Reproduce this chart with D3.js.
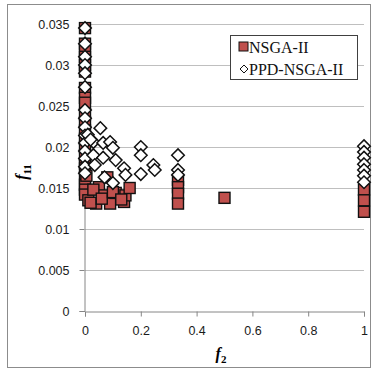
<!DOCTYPE html>
<html>
<head>
<meta charset="utf-8">
<script src="https://cdn.jsdelivr.net/npm/d3@7"></script>
<style>
  body { margin: 0; background: #fff; }
  svg { display: block; }
</style>
</head>
<body>
<svg id="chart" width="372" height="369"></svg>
<script>
// values
const nsgaF2 = [0, 0, 0, 0, 0, 0, 0, 0, 0, 0, 0, 0, 0, 0, 0, 0, 0, 0, 0, 0, 0,
  0.012, 0.04, 0.08, 0.05, 0.065, 0.09, 0.11, 0.14, 0.145, 0.16, 0.03, 0.02, 0.06, 0.1, 0.13, 0.005,
  1/3, 1/3, 1/3, 1/3, 0.5, 1, 1, 1];
const nsgaF11 = [0.0345, 0.0326, 0.0318, 0.031, 0.03, 0.0292, 0.0272, 0.026, 0.0254, 0.024, 0.023, 0.022, 0.021, 0.02, 0.019, 0.018, 0.0174, 0.0163, 0.0154, 0.0148, 0.0142,
  0.0135, 0.0131, 0.0163, 0.0151, 0.0141, 0.0131, 0.0144, 0.0133, 0.0141, 0.015, 0.0148, 0.0132, 0.0137, 0.0145, 0.0136, 0.0165,
  0.016, 0.0151, 0.0143, 0.0131, 0.0138, 0.0148, 0.0135, 0.0121];

const ppdF2 = [0, 0, 0, 0, 0, 0, 0, 0, 0, 0, 0, 0, 0, 0, 0,
  0.055, 0.01, 0.03, 0.02, 0.065, 0.09, 0.1, 0.03, 0.065, 0.11, 0.035, 0.07, 0.1, 0.14, 0.145,
  0.2, 0.2, 0.2, 0.245, 0.25, 1/3, 1/3, 1/3,
  1, 1, 1, 1, 1, 1, 1];
const ppdF11 = [0.0345, 0.0326, 0.031, 0.03, 0.029, 0.0273, 0.0245, 0.0235, 0.0224, 0.0214, 0.0205, 0.0195, 0.0186, 0.0176, 0.0168,
  0.0223, 0.0215, 0.0206, 0.0209, 0.0205, 0.0206, 0.0199, 0.019, 0.0187, 0.0184, 0.0178, 0.0163, 0.0156, 0.0174, 0.0166,
  0.02, 0.019, 0.0167, 0.0178, 0.0172, 0.019, 0.0172, 0.0166,
  0.0201, 0.0194, 0.0187, 0.0179, 0.0172, 0.0165, 0.0157];

const xTicks = [0, 0.2, 0.4, 0.6, 0.8, 1];
const yTicks = [0, 0.005, 0.01, 0.015, 0.02, 0.025, 0.03, 0.035];

const svg = d3.select("#chart");

// outer chart frame
svg.append("rect")
  .attr("x", 7.5).attr("y", 4.5)
  .attr("width", 363).attr("height", 363)
  .attr("fill", "#fff").attr("stroke", "#8c8c8c").attr("stroke-width", 1);

const x = d3.scaleLinear().domain([0, 1]).range([85, 364]);
const y = d3.scaleLinear().domain([0, 0.035]).range([311, 24]);

// horizontal gridlines
svg.append("g").selectAll("line").data(yTicks.slice(1)).join("line")
  .attr("x1", x(0)).attr("x2", x(1))
  .attr("y1", d => Math.round(y(d)) + 0.5).attr("y2", d => Math.round(y(d)) + 0.5)
  .attr("stroke", "#bfbfbf").attr("stroke-width", 1);

const tickFont = "'Liberation Sans', Arial, sans-serif";

// y axis
const yAxis = svg.append("g")
  .attr("transform", `translate(${x(0) - 0.5},0)`)
  .call(d3.axisLeft(y).tickValues(yTicks).tickSize(5).tickPadding(10).tickFormat(d => d3.format("")(+d.toFixed(3))));
yAxis.select(".domain").attr("stroke", "#868686");
yAxis.selectAll(".tick line").attr("stroke", "#868686");
yAxis.selectAll("text").attr("fill", "#1a1a1a").style("font-family", tickFont).style("font-size", "12.5px");

// x axis
const xAxis = svg.append("g")
  .attr("transform", `translate(0,${y(0) + 0.5})`)
  .call(d3.axisBottom(x).tickValues(xTicks).tickSize(5).tickPadding(10).tickFormat(d => String(d)));
xAxis.select(".domain").attr("stroke", "#868686");
xAxis.selectAll(".tick line").attr("stroke", "#868686");
xAxis.selectAll("text").attr("fill", "#1a1a1a").style("font-family", tickFont).style("font-size", "12.5px");

const sq = 11;
const diamond = (cx, cy, r) => `M${cx},${cy - r}L${cx + r},${cy}L${cx},${cy + r}L${cx - r},${cy}Z`;

// NSGA-II squares
svg.append("g").selectAll("rect").data(d3.range(nsgaF2.length)).join("rect")
  .attr("x", i => x(nsgaF2[i]) - sq / 2)
  .attr("y", i => y(nsgaF11[i]) - sq / 2)
  .attr("width", sq).attr("height", sq)
  .attr("fill", "#c0504d").attr("stroke", "#111").attr("stroke-width", 1.4);

// PPD-NSGA-II diamonds
svg.append("g").selectAll("path").data(d3.range(ppdF2.length)).join("path")
  .attr("d", i => diamond(x(ppdF2[i]), y(ppdF11[i]), 6.3))
  .attr("fill", "#fff").attr("stroke", "#111").attr("stroke-width", 1.5);

// axis titles
const serif = "'Liberation Serif', 'Times New Roman', serif";
const yt = svg.append("text")
  .attr("transform", "translate(27,172) rotate(-90)")
  .attr("text-anchor", "middle")
  .style("font-family", serif).style("font-size", "16px").style("font-style", "italic").style("font-weight", "bold");
yt.append("tspan").text("f");
yt.append("tspan").attr("dy", 4).style("font-size", "11px").style("font-style", "normal").text("11");

const xt = svg.append("text")
  .attr("x", 221).attr("y", 359)
  .attr("text-anchor", "middle")
  .style("font-family", serif).style("font-size", "16px").style("font-style", "italic").style("font-weight", "bold");
xt.append("tspan").text("f");
xt.append("tspan").attr("dy", 4).style("font-size", "11px").style("font-style", "normal").text("2");

// legend
const lg = svg.append("g");
lg.append("rect")
  .attr("x", 230.5).attr("y", 35.5).attr("width", 127).attr("height", 44)
  .attr("fill", "#fff").attr("stroke", "#404040").attr("stroke-width", 1);
lg.append("rect")
  .attr("x", 239).attr("y", 42).attr("width", 9).attr("height", 9)
  .attr("fill", "#c0504d").attr("stroke", "#111").attr("stroke-width", 1);
lg.append("text").attr("x", 249).attr("y", 53).text("NSGA-II")
  .style("font-family", serif).style("font-size", "16px").attr("fill", "#111");
lg.append("path").attr("d", diamond(244, 69, 4))
  .attr("fill", "#fff").attr("stroke", "#111").attr("stroke-width", 1);
lg.append("text").attr("x", 249).attr("y", 75).text("PPD-NSGA-II")
  .style("font-family", serif).style("font-size", "16px").attr("fill", "#111");
</script>
</body>
</html>
